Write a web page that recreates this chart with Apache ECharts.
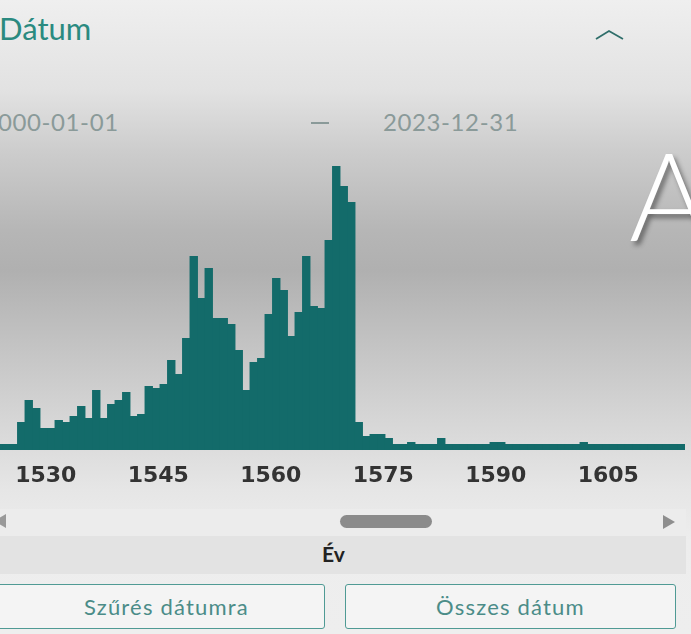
<!DOCTYPE html>
<html>
<head>
<meta charset="utf-8">
<script src="https://cdn.jsdelivr.net/npm/echarts@6/dist/echarts.min.js"></script>
<style>
  html, body { margin: 0; padding: 0; }
  body {
    width: 691px; height: 634px; overflow: hidden; position: relative;
    font-family: Lato, "Open Sans", sans-serif;
    background: linear-gradient(to bottom,
      #efefef 0px, #e2e2e2 90px, #cdcdcd 150px, #b6b6b6 230px, #b0b0b0 270px,
      #c2c2c2 340px, #d6d6d6 420px, #e6e6e6 490px, #ededed 540px, #eeeeee 634px);
  }
  .abs { position: absolute; white-space: nowrap; line-height: 1; }
  #title { left: -1px; top: 13px; font-size: 31px; color: #2a8a80; }
  #from { left: -2px; top: 110px; font-size: 24px; color: #8a9a99; letter-spacing: 0.6px; }
  #dash { position: absolute; left: 311px; top: 122px; width: 18px; height: 1.5px; background: #8a9a99; }
  #to { left: 383px; top: 110px; font-size: 24px; color: #8a9a99; letter-spacing: 0.6px; }
  #chev { left: 595px; top: 29px; }
  #bigA { left: 629px; top: 133px; font-size: 122px; font-weight: 300; color: #ffffff;
    text-shadow: 3px 4px 5px rgba(0,0,0,0.45); }
  #chart { position: absolute; left: -35px; top: 140px; width: 720px; height: 360px; }
  #scrollrow { position: absolute; left: 0; top: 509px; width: 686px; height: 27px; background: #ececec; }
  #thumb { position: absolute; left: 340px; top: 515px; width: 92px; height: 13px; border-radius: 7px; background: #8b8b8b; }
  #larrow { position: absolute; left: -6px; top: 514px; width: 0; height: 0;
    border-top: 7px solid transparent; border-bottom: 7px solid transparent; border-right: 12px solid #999; }
  #rarrow { position: absolute; left: 663px; top: 515px; width: 0; height: 0;
    border-top: 7px solid transparent; border-bottom: 7px solid transparent; border-left: 12px solid #8e8e8e; }
  #evrow { position: absolute; left: 0; top: 536px; width: 686px; height: 38px; background: #e3e3e3; }
  #ev { left: 322px; top: 543px; font-size: 21px; font-weight: bold; color: #222; }
  .btn { position: absolute; top: 584px; height: 45px; border: 1.5px solid #4f9a94; border-radius: 3px;
    background: #f4f4f4; color: #4b8c88; font-size: 22px; letter-spacing: 1.2px;
    display: flex; align-items: center; justify-content: center; box-sizing: border-box; }
  #btn1 { left: -6px; width: 331px; padding-left: 14px; }
  #btn2 { left: 345px; width: 331px; }
</style>
</head>
<body>
<div class="abs" id="title">Dátum</div>
<svg class="abs" id="chev" width="30" height="12"><polyline points="1,10 14,2 28,10" fill="none" stroke="#2f6e6a" stroke-width="1.8"/></svg>
<div class="abs" id="from">000-01-01</div>
<div id="dash"></div>
<div class="abs" id="to">2023-12-31</div>
<div id="chart"></div>
<div class="abs" id="bigA">A</div>
<div id="scrollrow"></div>
<div id="larrow"></div>
<div id="thumb"></div>
<div id="rarrow"></div>
<div id="evrow"></div>
<div class="abs" id="ev">Év</div>
<div class="btn" id="btn1">Szűrés dátumra</div>
<div class="btn" id="btn2">Összes dátum</div>
<script>
const years = [
  1520, 1521, 1522, 1523, 1524, 1525, 1526, 1527, 1528, 1529,
  1530, 1531, 1532, 1533, 1534, 1535, 1536, 1537, 1538, 1539,
  1540, 1541, 1542, 1543, 1544, 1545, 1546, 1547, 1548, 1549,
  1550, 1551, 1552, 1553, 1554, 1555, 1556, 1557, 1558, 1559,
  1560, 1561, 1562, 1563, 1564, 1565, 1566, 1567, 1568, 1569,
  1570, 1571, 1572, 1573, 1574, 1575, 1576, 1577, 1578, 1579,
  1580, 1581, 1582, 1583, 1584, 1585, 1586, 1587, 1588, 1589,
  1590, 1591, 1592, 1593, 1594, 1595, 1596, 1597, 1598, 1599,
  1600, 1601, 1602, 1603, 1604, 1605, 1606, 1607, 1608, 1609,
  1610, 1611, 1612, 1613, 1614, 1615
];
const counts = [
  0, 0, 0, 0, 0, 0, 0, 14, 25, 21,
  11, 11, 15, 14, 17, 22, 16, 30, 16, 23,
  25, 29, 17, 18, 32, 31, 33, 45, 38, 56,
  97, 76, 91, 66, 66, 63, 50, 30, 44, 46,
  68, 86, 80, 57, 69, 97, 72, 71, 105, 142,
  132, 124, 14, 7, 8, 8, 6, 0, 0, 4,
  0, 0, 0, 6, 0, 0, 0, 0, 0, 0,
  4, 4, 0, 0, 0, 0, 0, 0, 0, 0,
  0, 0, 4, 0, 0, 0, 0, 0, 0, 0,
  0, 0, 0, 0, 0, 0
];
const tickYears = [1530, 1545, 1560, 1575, 1590, 1605];

const chart = echarts.init(document.getElementById('chart'));
chart.setOption({
  animation: false,
  grid: { left: 0, right: 0, top: 10, bottom: 50 },
  xAxis: {
    type: 'category',
    data: years.map(String),
    axisLine: { show: false },
    axisTick: { show: false },
    splitLine: { show: false },
    axisLabel: {
      interval: (i, v) => tickYears.includes(Number(v)),
      margin: 15,
      color: '#333',
      fontFamily: 'DejaVu Sans',
      fontWeight: 'bold',
      fontSize: 22,
      padding: [0, 0, 0, 4]
    }
  },
  yAxis: { type: 'value', min: 0, max: 150, show: false },
  series: [{
    type: 'bar',
    data: counts,
    barWidth: 8.4,
    barMinHeight: 6,
    itemStyle: { color: '#136b6a' }
  }]
});
</script>
</body>
</html>
